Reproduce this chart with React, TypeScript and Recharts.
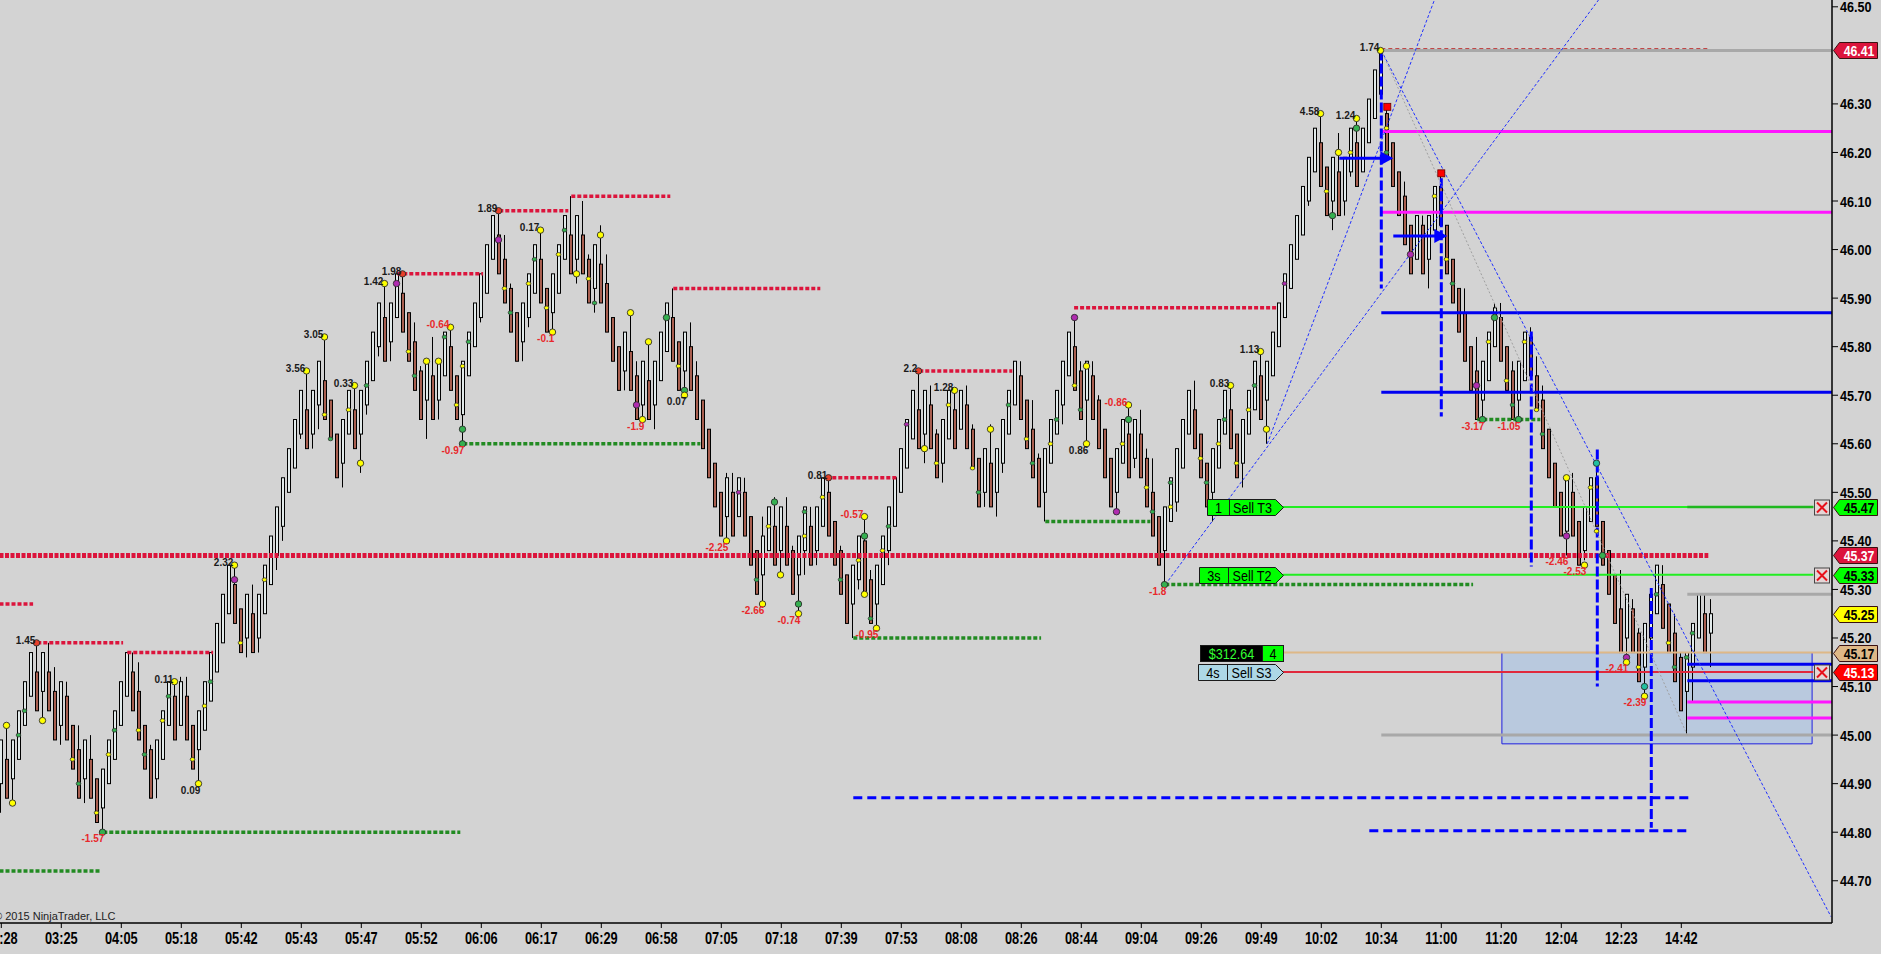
import React from "react";
import { ComposedChart, Bar, XAxis, YAxis, ReferenceLine, ReferenceArea, ReferenceDot } from "recharts";

const X_MIN = -0.217;
const X_MAX = 305.117;
const Y_MIN = 44.613;
const Y_MAX = 46.514;
const FONT = "'Liberation Sans', Arial, sans-serif";

const opens = [
  44.90, 44.95, 44.91, 44.95, 45.02, 45.08, 45.13, 45.09, 45.13, 45.09,
  45.02, 45.08, 45.02, 44.97, 44.91, 44.95, 44.91, 44.85, 44.90, 44.95,
  45.02, 45.08, 45.13, 45.09, 45.02, 44.97, 44.91, 44.95, 45.02, 45.08,
  45.02, 45.08, 45.02, 44.97, 45.01, 45.07, 45.13, 45.19, 45.25, 45.31,
  45.26, 45.20, 45.25, 45.20, 45.25, 45.31, 45.37, 45.43, 45.50, 45.55,
  45.62, 45.67, 45.62, 45.68, 45.73, 45.69, 45.62, 45.56, 45.62, 45.67,
  45.62, 45.68, 45.73, 45.80, 45.86, 45.81, 45.86, 45.91, 45.87, 45.81,
  45.75, 45.69, 45.74, 45.69, 45.74, 45.80, 45.74, 45.66, 45.74, 45.80,
  45.86, 45.91, 45.98, 46.03, 45.98, 45.92, 45.87, 45.81, 45.86, 45.91,
  45.98, 45.92, 45.87, 45.91, 45.98, 46.03, 45.98, 46.03, 45.98, 45.92,
  45.97, 45.93, 45.86, 45.80, 45.75, 45.79, 45.74, 45.68, 45.73, 45.68,
  45.73, 45.79, 45.86, 45.81, 45.75, 45.80, 45.74, 45.69, 45.63, 45.56,
  45.50, 45.45, 45.50, 45.45, 45.50, 45.45, 45.38, 45.33, 45.38, 45.43,
  45.38, 45.43, 45.38, 45.33, 45.38, 45.43, 45.38, 45.43, 45.50, 45.44,
  45.38, 45.33, 45.27, 45.32, 45.40, 45.32, 45.27, 45.31, 45.38, 45.43,
  45.50, 45.55, 45.61, 45.67, 45.62, 45.68, 45.62, 45.56, 45.61, 45.67,
  45.63, 45.68, 45.63, 45.57, 45.50, 45.56, 45.50, 45.56, 45.62, 45.68,
  45.74, 45.69, 45.63, 45.57, 45.50, 45.56, 45.62, 45.68, 45.74, 45.80,
  45.75, 45.69, 45.74, 45.69, 45.63, 45.57, 45.50, 45.56, 45.62, 45.57,
  45.62, 45.57, 45.50, 45.45, 45.38, 45.44, 45.48, 45.55, 45.62, 45.67,
  45.62, 45.56, 45.50, 45.55, 45.62, 45.67, 45.62, 45.56, 45.62, 45.67,
  45.74, 45.69, 45.74, 45.80, 45.86, 45.92, 45.98, 46.03, 46.10, 46.16,
  46.22, 46.17, 46.10, 46.16, 46.10, 46.16, 46.22, 46.16, 46.22, 46.27,
  46.32, 46.28, 46.22, 46.16, 46.11, 46.05, 45.98, 46.05, 45.98, 46.04,
  46.13, 46.05, 45.98, 45.92, 45.87, 45.80, 45.75, 45.69, 45.73, 45.80,
  45.86, 45.80, 45.75, 45.69, 45.73, 45.82, 45.74, 45.69, 45.63, 45.56,
  45.50, 45.42, 45.50, 45.44, 45.38, 45.44, 45.53, 45.44, 45.38, 45.33,
  45.26, 45.20, 45.26, 45.21, 45.14, 45.20, 45.25, 45.31, 45.27, 45.21,
  45.16, 45.09, 45.14, 45.20, 45.25, 45.21,
];

const highs = [
  44.99, 45.02, 44.99, 45.05, 45.11, 45.17, 45.19, 45.17, 45.19, 45.14,
  45.11, 45.11, 45.02, 45.02, 44.99, 45.00, 44.91, 44.93, 44.99, 45.05,
  45.11, 45.17, 45.17, 45.15, 45.02, 44.98, 44.99, 45.05, 45.11, 45.11,
  45.12, 45.12, 45.02, 45.05, 45.11, 45.17, 45.23, 45.29, 45.35, 45.35,
  45.26, 45.29, 45.31, 45.29, 45.35, 45.41, 45.47, 45.53, 45.59, 45.65,
  45.71, 45.75, 45.71, 45.77, 45.82, 45.69, 45.62, 45.65, 45.71, 45.72,
  45.71, 45.77, 45.83, 45.89, 45.93, 45.89, 45.95, 45.95, 45.87, 45.85,
  45.76, 45.77, 45.82, 45.77, 45.83, 45.84, 45.74, 45.77, 45.83, 45.89,
  45.95, 46.01, 46.07, 46.08, 46.03, 45.93, 45.87, 45.89, 45.95, 46.01,
  46.04, 45.92, 45.95, 46.01, 46.07, 46.11, 46.07, 46.10, 45.99, 46.01,
  46.05, 45.99, 45.86, 45.80, 45.83, 45.87, 45.77, 45.77, 45.81, 45.77,
  45.83, 45.89, 45.92, 45.81, 45.83, 45.85, 45.77, 45.69, 45.63, 45.56,
  45.50, 45.54, 45.54, 45.53, 45.53, 45.45, 45.38, 45.45, 45.47, 45.49,
  45.47, 45.49, 45.39, 45.41, 45.47, 45.47, 45.47, 45.53, 45.53, 45.44,
  45.39, 45.33, 45.35, 45.41, 45.45, 45.34, 45.35, 45.41, 45.47, 45.53,
  45.59, 45.65, 45.71, 45.75, 45.71, 45.72, 45.63, 45.65, 45.71, 45.71,
  45.71, 45.72, 45.64, 45.57, 45.59, 45.64, 45.59, 45.65, 45.71, 45.77,
  45.77, 45.69, 45.69, 45.58, 45.59, 45.65, 45.71, 45.77, 45.83, 45.86,
  45.77, 45.77, 45.77, 45.70, 45.63, 45.57, 45.59, 45.65, 45.68, 45.65,
  45.67, 45.59, 45.57, 45.45, 45.47, 45.53, 45.59, 45.65, 45.71, 45.73,
  45.62, 45.56, 45.59, 45.65, 45.71, 45.72, 45.62, 45.65, 45.71, 45.77,
  45.79, 45.77, 45.83, 45.89, 45.95, 46.01, 46.07, 46.13, 46.19, 46.25,
  46.28, 46.17, 46.19, 46.24, 46.19, 46.25, 46.27, 46.25, 46.31, 46.37,
  46.41, 46.30, 46.22, 46.16, 46.14, 46.05, 46.07, 46.07, 46.07, 46.13,
  46.16, 46.05, 45.98, 45.92, 45.92, 45.80, 45.82, 45.77, 45.83, 45.89,
  45.89, 45.80, 45.77, 45.77, 45.83, 45.84, 45.78, 45.72, 45.63, 45.56,
  45.50, 45.53, 45.54, 45.44, 45.47, 45.53, 45.56, 45.44, 45.38, 45.33,
  45.34, 45.29, 45.28, 45.22, 45.23, 45.29, 45.35, 45.35, 45.27, 45.25,
  45.17, 45.17, 45.23, 45.29, 45.29, 45.28,
];

const lows = [
  44.84, 44.87, 44.86, 44.95, 45.02, 45.08, 45.05, 45.03, 45.05, 44.99,
  44.98, 44.99, 44.93, 44.87, 44.86, 44.87, 44.82, 44.80, 44.90, 44.95,
  45.02, 45.08, 45.05, 44.99, 44.93, 44.87, 44.87, 44.95, 45.02, 44.99,
  45.02, 44.99, 44.93, 44.90, 45.01, 45.07, 45.13, 45.19, 45.25, 45.23,
  45.17, 45.16, 45.17, 45.17, 45.25, 45.31, 45.34, 45.40, 45.50, 45.55,
  45.61, 45.59, 45.59, 45.63, 45.65, 45.61, 45.53, 45.51, 45.62, 45.59,
  45.54, 45.66, 45.73, 45.78, 45.77, 45.77, 45.86, 45.83, 45.77, 45.71,
  45.65, 45.61, 45.65, 45.65, 45.74, 45.71, 45.65, 45.60, 45.74, 45.80,
  45.85, 45.91, 45.98, 45.95, 45.89, 45.83, 45.77, 45.77, 45.84, 45.91,
  45.89, 45.83, 45.83, 45.91, 45.98, 45.95, 45.93, 45.95, 45.89, 45.87,
  45.89, 45.83, 45.77, 45.71, 45.71, 45.71, 45.65, 45.65, 45.65, 45.63,
  45.73, 45.79, 45.77, 45.71, 45.70, 45.71, 45.65, 45.59, 45.53, 45.47,
  45.41, 45.40, 45.41, 45.45, 45.41, 45.35, 45.29, 45.27, 45.38, 45.35,
  45.33, 45.35, 45.29, 45.25, 45.33, 45.35, 45.35, 45.43, 45.41, 45.35,
  45.29, 45.23, 45.20, 45.30, 45.29, 45.23, 45.22, 45.31, 45.35, 45.43,
  45.50, 45.55, 45.61, 45.59, 45.56, 45.59, 45.53, 45.52, 45.61, 45.59,
  45.63, 45.59, 45.55, 45.47, 45.47, 45.47, 45.45, 45.54, 45.62, 45.68,
  45.65, 45.59, 45.53, 45.47, 45.44, 45.56, 45.62, 45.64, 45.74, 45.71,
  45.65, 45.60, 45.65, 45.59, 45.53, 45.47, 45.46, 45.56, 45.53, 45.55,
  45.53, 45.47, 45.41, 45.35, 45.31, 45.44, 45.46, 45.55, 45.62, 45.59,
  45.53, 45.47, 45.44, 45.55, 45.62, 45.59, 45.53, 45.51, 45.62, 45.67,
  45.65, 45.60, 45.74, 45.80, 45.86, 45.92, 45.98, 46.03, 46.09, 46.16,
  46.13, 46.07, 46.04, 46.07, 46.07, 46.15, 46.13, 46.16, 46.22, 46.27,
  46.31, 46.19, 46.13, 46.07, 46.01, 45.95, 45.98, 45.95, 45.92, 46.04,
  46.05, 45.95, 45.89, 45.83, 45.77, 45.71, 45.65, 45.65, 45.73, 45.80,
  45.77, 45.71, 45.65, 45.65, 45.73, 45.74, 45.67, 45.59, 45.53, 45.47,
  45.41, 45.37, 45.41, 45.35, 45.36, 45.44, 45.43, 45.35, 45.29, 45.23,
  45.17, 45.15, 45.17, 45.11, 45.08, 45.18, 45.25, 45.22, 45.17, 45.11,
  45.05, 45.00, 45.07, 45.20, 45.17, 45.14,
];

const closes = [
  44.99, 44.87, 44.99, 45.05, 45.11, 45.17, 45.05, 45.17, 45.05, 44.99,
  45.11, 44.99, 44.93, 44.87, 44.99, 44.87, 44.82, 44.93, 44.99, 45.05,
  45.11, 45.17, 45.05, 44.99, 44.93, 44.87, 44.99, 45.05, 45.11, 44.99,
  45.11, 44.99, 44.93, 45.05, 45.11, 45.17, 45.23, 45.29, 45.35, 45.23,
  45.17, 45.29, 45.17, 45.29, 45.35, 45.41, 45.47, 45.53, 45.59, 45.65,
  45.71, 45.59, 45.71, 45.77, 45.65, 45.61, 45.53, 45.65, 45.71, 45.59,
  45.71, 45.77, 45.83, 45.89, 45.77, 45.89, 45.95, 45.83, 45.77, 45.71,
  45.65, 45.77, 45.65, 45.77, 45.83, 45.71, 45.65, 45.77, 45.83, 45.89,
  45.95, 46.01, 46.07, 45.95, 45.89, 45.83, 45.77, 45.89, 45.95, 46.01,
  45.89, 45.83, 45.95, 46.01, 46.07, 45.95, 46.07, 45.95, 45.89, 46.01,
  45.89, 45.83, 45.77, 45.71, 45.83, 45.71, 45.65, 45.77, 45.65, 45.77,
  45.83, 45.89, 45.77, 45.71, 45.83, 45.71, 45.65, 45.59, 45.53, 45.47,
  45.41, 45.53, 45.41, 45.53, 45.41, 45.35, 45.29, 45.41, 45.47, 45.35,
  45.47, 45.35, 45.29, 45.41, 45.47, 45.35, 45.47, 45.53, 45.41, 45.35,
  45.29, 45.23, 45.35, 45.41, 45.29, 45.23, 45.35, 45.41, 45.47, 45.53,
  45.59, 45.65, 45.71, 45.59, 45.71, 45.59, 45.53, 45.65, 45.71, 45.59,
  45.71, 45.59, 45.55, 45.47, 45.59, 45.47, 45.59, 45.65, 45.71, 45.77,
  45.65, 45.59, 45.53, 45.47, 45.59, 45.65, 45.71, 45.77, 45.83, 45.71,
  45.65, 45.77, 45.65, 45.59, 45.53, 45.47, 45.59, 45.65, 45.53, 45.65,
  45.53, 45.47, 45.41, 45.35, 45.47, 45.53, 45.59, 45.65, 45.71, 45.59,
  45.53, 45.47, 45.59, 45.65, 45.71, 45.59, 45.53, 45.65, 45.71, 45.77,
  45.65, 45.77, 45.83, 45.89, 45.95, 46.01, 46.07, 46.13, 46.19, 46.25,
  46.13, 46.07, 46.19, 46.07, 46.19, 46.25, 46.13, 46.25, 46.31, 46.37,
  46.41, 46.19, 46.13, 46.07, 46.01, 45.95, 46.07, 45.95, 46.07, 46.13,
  46.05, 45.95, 45.89, 45.83, 45.77, 45.71, 45.65, 45.77, 45.83, 45.88,
  45.77, 45.71, 45.65, 45.77, 45.83, 45.74, 45.67, 45.59, 45.53, 45.47,
  45.41, 45.53, 45.41, 45.35, 45.47, 45.53, 45.43, 45.35, 45.29, 45.23,
  45.17, 45.29, 45.17, 45.11, 45.23, 45.29, 45.35, 45.22, 45.17, 45.11,
  45.05, 45.17, 45.23, 45.29, 45.17, 45.25,
];

const tickBars = [0, 10, 20, 30, 40, 50, 60, 70, 80, 90, 100, 110, 120, 130, 140, 150, 160, 170, 180, 190, 200, 210, 220, 230, 240, 250, 260, 270, 280];
const timeLabels = ["02:28", "03:25", "04:05", "05:18", "05:42", "05:43", "05:47", "05:52", "06:06", "06:17", "06:29", "06:58", "07:05", "07:18", "07:39", "07:53", "08:08", "08:26", "08:44", "09:04", "09:26", "09:49", "10:02", "10:34", "11:00", "11:20", "12:04", "12:23", "14:42"];
const priceTicks = [44.7, 44.8, 44.9, 45.0, 45.1, 45.2, 45.3, 45.4, 45.5, 45.6, 45.7, 45.8, 45.9, 46.0, 46.1, 46.2, 46.3, 46.5];

// [fromBar, toBar, price]
const resistanceLevels: [number, number, number][] = [
  [-0.3, 5.3, 45.27], [6, 20.3, 45.19], [21, 35.3, 45.17], [66, 80.3, 45.95], [83, 94.5, 46.08],
  [95, 111.5, 46.11], [112, 136.5, 45.92], [137.5, 149.5, 45.53], [153, 168.5, 45.75], [178.8, 212.6, 45.88],
];
const supportLevels: [number, number, number][] = [
  [-0.3, 16.5, 44.72], [17, 76.5, 44.80], [77, 116.5, 45.60], [142, 173.3, 45.20],
  [174, 191.5, 45.44], [194, 245.3, 45.31], [246, 256.5, 45.65],
];
const pivotLevels: [number, number, number][] = [[-0.3, 284.5, 45.37]];
const blueLevels: [number, number, number][] = [[230, 306, 45.87], [230, 306, 45.706], [281, 306, 45.146], [281, 306, 45.112]];
const magentaLevels: [number, number, number][] = [[230, 306, 46.243], [230, 306, 46.077], [281, 306, 45.068], [281, 306, 45.035]];
const grayLevels: [number, number, number][] = [[230, 306, 46.41], [281, 306, 45.29], [230, 306, 45.0]];
const targetLevels: [number, number, number][] = [[213.6, 302, 45.47], [213.6, 302, 45.33]];
const pnlLevels: [number, number, number][] = [[213.6, 306, 45.17]];
const stopLevels: [number, number, number][] = [[213.6, 302, 45.13]];
// [bar, fromPrice, toPrice]
const dashVerticals: [number, number, number][] = [[230, 46.41, 45.92], [240, 46.147, 45.656], [255, 45.831, 45.347], [266, 45.588, 45.10], [275, 45.303, 44.809]];
const dashHorizontals: [number, number, number][] = [[142, 281.3, 44.871], [228, 281.3, 44.803]];
const arrows: [number, number, number][] = [[223, 232, 46.188], [232, 241, 46.028]];
// [bar1, price1, bar2, price2]
const trendLines: [number, number, number, number][] = [[194, 45.31, 266.2, 46.514], [211, 45.60, 238.85, 46.514], [230, 46.41, 304.95, 44.626]];
const grayTrend: [number, number, number, number][] = [[230, 46.41, 281, 45.0]];
const redSquares: [number, number][] = [[231, 46.294], [240, 46.157]];
const zone = { x1: 250.1, x2: 301.8, y1: 44.982, y2: 45.17 };

// [bar, price, colour]
const swingDots: [number, number, string][] = [
  [1, 45.02, "y"], [2, 44.86, "y"], [6, 45.19, "r"], [7, 45.03, "y"], [17, 44.80, "g"], [29, 45.11, "y"], [33, 44.90, "y"],
  [39, 45.35, "y"], [39, 45.32, "p"], [51, 45.75, "y"], [54, 45.82, "y"], [59, 45.72, "y"], [60, 45.56, "y"], [64, 45.93, "y"],
  [66, 45.93, "p"], [67, 45.95, "r"], [71, 45.77, "y"], [73, 45.77, "y"], [75, 45.84, "y"], [77, 45.63, "g"], [77, 45.60, "g"],
  [83, 46.08, "r"], [83, 46.02, "p"], [90, 46.04, "y"], [92, 45.83, "y"], [96, 45.95, "y"], [100, 46.03, "y"], [105, 45.87, "y"],
  [106, 45.68, "p"], [107, 45.65, "y"], [108, 45.81, "y"], [111, 45.86, "g"], [114, 45.71, "g"], [114, 45.70, "y"], [121, 45.40, "y"],
  [127, 45.27, "y"], [129, 45.48, "g"], [130, 45.33, "y"], [133, 45.27, "g"], [133, 45.25, "y"], [138, 45.53, "r"], [144, 45.45, "y"],
  [144, 45.41, "g"], [144, 45.29, "y"], [146, 45.22, "y"], [153, 45.75, "r"], [154, 45.59, "y"], [159, 45.71, "y"], [165, 45.63, "y"],
  [179, 45.86, "p"], [181, 45.76, "y"], [181, 45.60, "y"], [186, 45.46, "p"], [188, 45.68, "y"], [188, 45.65, "g"], [194, 45.31, "g"],
  [205, 45.72, "y"], [210, 45.79, "y"], [211, 45.63, "y"], [220, 46.28, "y"], [222, 46.07, "g"], [223, 46.20, "y"], [226, 46.27, "y"],
  [226, 46.25, "g"], [230, 46.41, "y"], [235, 45.99, "p"], [246, 45.72, "p"], [247, 45.65, "g"], [249, 45.86, "g"], [253, 45.65, "g"],
  [261, 45.53, "y"], [261, 45.41, "p"], [264, 45.35, "y"], [266, 45.56, "t"], [267, 45.37, "g"], [271, 45.16, "p"], [271, 45.15, "y"],
  [274, 45.10, "t"], [274, 45.08, "y"],
];
// [bar, price, colour]
const minorDots: [number, number, string][] = [
  [3, 45.00, "g"], [4, 45.05, "g"], [12, 44.95, "y"], [13, 44.90, "g"], [16, 44.84, "y"], [18, 44.96, "y"], [19, 45.01, "g"],
  [23, 45.01, "y"], [24, 44.96, "g"], [27, 45.03, "y"], [28, 45.08, "g"], [32, 44.95, "y"], [34, 45.06, "y"], [35, 45.11, "g"],
  [40, 45.19, "y"], [44, 45.32, "y"], [54, 45.66, "y"], [55, 45.61, "g"], [58, 45.67, "y"], [61, 45.72, "g"], [68, 45.79, "y"],
  [69, 45.74, "g"], [74, 45.82, "g"], [76, 45.68, "y"], [77, 45.76, "y"], [78, 45.81, "g"], [84, 45.92, "y"], [85, 45.87, "g"],
  [88, 45.93, "y"], [89, 45.98, "g"], [91, 45.88, "y"], [93, 45.99, "y"], [94, 46.04, "g"], [98, 45.94, "y"], [99, 45.89, "g"],
  [111, 45.86, "g"], [113, 45.76, "y"], [123, 45.50, "p"], [126, 45.32, "g"], [128, 45.43, "y"], [134, 45.46, "g"], [134, 45.41, "y"],
  [137, 45.49, "y"], [140, 45.32, "g"], [143, 45.36, "y"], [145, 45.24, "g"], [147, 45.38, "y"], [148, 45.43, "g"], [151, 45.64, "p"],
  [156, 45.56, "y"], [158, 45.68, "y"], [162, 45.55, "y"], [163, 45.50, "g"], [168, 45.68, "g"], [171, 45.61, "y"], [172, 45.56, "g"],
  [175, 45.60, "y"], [176, 45.65, "g"], [179, 45.72, "y"], [180, 45.67, "g"], [187, 45.60, "y"], [191, 45.51, "y"], [192, 45.46, "g"],
  [195, 45.47, "y"], [195, 45.52, "g"], [200, 45.57, "y"], [201, 45.52, "g"], [203, 45.60, "y"], [204, 45.65, "g"], [206, 45.56, "y"],
  [208, 45.67, "y"], [209, 45.72, "g"], [214, 45.93, "p"], [221, 46.12, "y"], [225, 46.20, "y"], [231, 46.25, "y"], [231, 46.20, "g"],
  [239, 46.11, "y"], [241, 45.98, "y"], [242, 45.93, "g"], [248, 45.81, "y"], [251, 45.73, "y"], [252, 45.68, "g"], [254, 45.81, "y"],
  [256, 45.67, "y"], [257, 45.62, "g"], [265, 45.51, "y"], [266, 45.42, "y"], [273, 45.14, "y"], [276, 45.29, "g"], [278, 45.19, "y"],
  [279, 45.14, "g"], [281, 45.16, "g"], [282, 45.21, "g"],
];
// [text, bar, price, side]
const swingLabels: [string, number, number, string][] = [
  ["1.45", 6, 45.19, "a"], ["-1.57", 17, 44.80, "b"], ["0.11", 29, 45.11, "a"], ["0.09", 33, 44.90, "b"], ["2.32", 39, 45.35, "a"],
  ["3.56", 51, 45.75, "a"], ["3.05", 54, 45.82, "a"], ["0.33", 59, 45.72, "a"], ["1.42", 64, 45.93, "a"], ["1.98", 67, 45.95, "a"],
  ["-0.64", 75, 45.84, "a"], ["-0.97", 77, 45.60, "b"], ["1.89", 83, 46.08, "a"], ["0.17", 90, 46.04, "a"], ["-0.1", 92, 45.83, "b"],
  ["-1.9", 107, 45.65, "b"], ["0.07", 114, 45.70, "b"], ["-2.25", 121, 45.40, "b"], ["-2.66", 127, 45.27, "b"], ["-0.74", 133, 45.25, "b"],
  ["0.81", 138, 45.53, "a"], ["-0.57", 144, 45.45, "a"], ["-0.95", 146, 45.22, "b"], ["2.2", 153, 45.75, "a"], ["1.28", 159, 45.71, "a"],
  ["0.86", 181, 45.60, "b"], ["-0.86", 188, 45.68, "a"], ["-1.8", 194, 45.31, "b"], ["0.83", 205, 45.72, "a"], ["1.13", 210, 45.79, "a"],
  ["4.58", 220, 46.28, "a"], ["1.24", 226, 46.27, "a"], ["1.74", 230, 46.41, "a"], ["-3.17", 247, 45.65, "b"], ["-1.05", 253, 45.65, "b"],
  ["-2.46", 261, 45.37, "b"], ["-2.53", 264, 45.35, "b"], ["-2.41", 271, 45.15, "b"], ["-2.39", 274, 45.08, "b"],
];
// [price, fill, text colour, cancel box]
const priceTags: [number, string, string, boolean][] = [
  [46.41, "#dc143c", "#ffffff", false], [45.47, "#00ff00", "#000000", true], [45.37, "#dc143c", "#ffffff", false],
  [45.33, "#00ff00", "#000000", true], [45.25, "#ffff00", "#000000", false], [45.17, "#deb887", "#000000", false],
  [45.13, "#ff0000", "#ffffff", true],
];
// [price, qty, name, fill, leftWidth, dividerOffset]
const orderTags: [number, string, string, string, number, number][] = [
  [45.47, "1", "Sell T3", "#00ff00", 76, 54], [45.33, "3s", "Sell T2", "#00ff00", 84, 55], [45.13, "4s", "Sell S3", "#add8e6", 85, 56],
];
const pnlTag = { price: 45.17, text: "$312.64", qty: "4" };
const orderBar = 213.6;

const dotColours: Record<string, string> = { y: "#ffff00", g: "#35b050", p: "#b02cb0", r: "#e8402a", t: "#20c0a0" };

const candles = opens.map((o, i) => ({ i, o, h: highs[i], l: lows[i], c: closes[i] }));

function Candle(props: any) {
  const { x, y, width, height, payload } = props;
  if (payload == null || x == null || y == null) return null;
  const top = Math.min(y, y + height);
  const hgt = Math.abs(height);
  const { o, h, l, c } = payload;
  const span = h - l;
  const k = span > 0 ? hgt / span : 0;
  const cx0 = Math.round(x + width / 2);
  const bTop = top + (h - Math.max(o, c)) * k;
  const bBot = top + (h - Math.min(o, c)) * k;
  const up = c >= o;
  return (
    <g>
      <line x1={cx0 - 0.5} x2={cx0 - 0.5} y1={top} y2={top + hgt} stroke="#000" strokeWidth={1} />
      <rect x={cx0 - 1.5} y={bTop} width={3} height={Math.max(1, bBot - bTop)} fill={up ? "#e2eaea" : "#a85e4f"} stroke="#000" strokeWidth={1} />
    </g>
  );
}

const XTick = (p: any) => {
  const idx = tickBars.indexOf(p.payload.value);
  return (
    <text transform={`translate(${p.x},${p.y + 13.5}) scale(0.8,1)`} textAnchor="middle" fontFamily={FONT} fontWeight="bold" fontSize={16} fill="#000">
      {timeLabels[idx]}
    </text>
  );
};

const YTick = (p: any) => (
  <text transform={`translate(${p.x},${p.y + 5.5}) scale(0.84,1)`} textAnchor="start" fontFamily={FONT} fontWeight="bold" fontSize={15} fill="#000">
    {Number(p.payload.value).toFixed(2)}
  </text>
);

const hSeg = (arr: [number, number, number][], key: string, stroke: string, width: number, dash?: string) =>
  arr.map(([a, b, p], n) => (
    <ReferenceLine key={`${key}${n}`} segment={[{ x: a, y: p }, { x: b, y: p }]} stroke={stroke} strokeWidth={width} strokeDasharray={dash} ifOverflow="hidden" />
  ));

export default function App() {
  return (
    <div style={{ position: "absolute", left: 0, top: 0, width: 1881, height: 954, background: "#d3d3d3", overflow: "hidden" }}>
      <ComposedChart width={1881} height={954} data={candles} margin={{ top: 0, right: 0, bottom: 0, left: 0 }}>
        <XAxis
          dataKey="i"
          type="number"
          domain={[X_MIN, X_MAX]}
          allowDataOverflow
          ticks={tickBars}
          interval={0}
          height={31}
          tickSize={5}
          tickMargin={2}
          axisLine={{ stroke: "#000", strokeWidth: 1.5 }}
          tickLine={{ stroke: "#000" }}
          tick={(p: any) => <XTick {...p} />}
        />
        <YAxis
          orientation="right"
          type="number"
          domain={[Y_MIN, Y_MAX]}
          allowDataOverflow
          ticks={priceTicks}
          interval={0}
          width={49}
          tickSize={6}
          tickMargin={2}
          axisLine={{ stroke: "#000", strokeWidth: 1.5 }}
          tickLine={{ stroke: "#000" }}
          tick={(p: any) => <YTick {...p} />}
        />
        <ReferenceArea x1={zone.x1} x2={zone.x2} y1={zone.y1} y2={zone.y2} fill="#b9c9de" fillOpacity={1} stroke="#2020e0" strokeWidth={1} ifOverflow="hidden" />
        <Bar dataKey={(d: any) => [d.l, d.h]} barSize={4} shape={(p: any) => <Candle {...p} />} isAnimationActive={false} />

        {hSeg(grayLevels, "gr", "#a8a8a8", 3)}
        {hSeg(magentaLevels, "mg", "#ff14ff", 3)}
        {hSeg(blueLevels, "bl", "#0000f0", 3)}
        {hSeg([[230, 284.5, 46.414]], "rd", "#c04040", 1, "4 3")}
        {hSeg(resistanceLevels, "rs", "#dc143c", 3.5, "4 2")}
        {hSeg(supportLevels, "sp", "#228b22", 3.5, "4 2")}
        {hSeg(pivotLevels, "pv", "#dc143c", 5, "4 1.5")}
        {hSeg(targetLevels, "tg", "#22ee22", 2)}
        {hSeg(pnlLevels, "pn", "#deb887", 2)}
        {hSeg(stopLevels, "st", "#e0283c", 2)}
        {hSeg([[281, 302, 45.47]], "tg2", "#1fb81f", 2.5)}
        {hSeg(dashHorizontals, "dh", "#0000ff", 3, "9 5")}

        {dashVerticals.map(([b, p1, p2], n) => (
          <ReferenceLine key={`dv${n}`} segment={[{ x: b, y: p1 }, { x: b, y: p2 }]} stroke="#0000ff" strokeWidth={3} strokeDasharray="10 3" ifOverflow="hidden" />
        ))}
        {trendLines.map(([b1, p1, b2, p2], n) => (
          <ReferenceLine key={`tl${n}`} segment={[{ x: b1, y: p1 }, { x: b2, y: p2 }]} stroke="#2030ff" strokeWidth={1} strokeDasharray="3 2" ifOverflow="hidden" />
        ))}
        {grayTrend.map(([b1, p1, b2, p2], n) => (
          <ReferenceLine key={`gt${n}`} segment={[{ x: b1, y: p1 }, { x: b2, y: p2 }]} stroke="#a0a0a0" strokeWidth={1} strokeDasharray="2 2" ifOverflow="hidden" />
        ))}
        {arrows.map(([b1, b2, p], n) => (
          <ReferenceLine key={`ar${n}`} segment={[{ x: b1, y: p }, { x: b2 - 1.5, y: p }]} stroke="#0000ff" strokeWidth={3} ifOverflow="hidden" />
        ))}
        {arrows.map(([, b2, p], n) => (
          <ReferenceDot
            key={`ah${n}`}
            x={b2}
            y={p}
            r={1}
            shape={(s: any) => <polygon points={`${s.cx},${s.cy} ${s.cx - 13},${s.cy - 7} ${s.cx - 13},${s.cy + 7}`} fill="#0000ff" />}
          />
        ))}

        {minorDots.map(([b, p, col], n) => (
          <ReferenceDot
            key={`md${n}`}
            x={b}
            y={p}
            r={2}
            shape={(s: any) => <ellipse cx={Math.round(s.cx) - 0.5} cy={s.cy} rx={2.3} ry={1.9} fill={dotColours[col]} stroke="#333" strokeWidth={0.8} />}
          />
        ))}
        {swingDots.map(([b, p, col], n) => (
          <ReferenceDot
            key={`sd${n}`}
            x={b}
            y={p}
            r={3}
            shape={(s: any) => <circle cx={Math.round(s.cx) - 0.5} cy={s.cy} r={3.2} fill={dotColours[col]} stroke="#2a2a2a" strokeWidth={0.9} />}
          />
        ))}
        {swingLabels.map(([t, b, p, side], n) => (
          <ReferenceDot
            key={`sl${n}`}
            x={b}
            y={p}
            r={1}
            shape={(s: any) => (
              <text
                x={side === "a" ? s.cx - 2 : s.cx + 1}
                y={side === "a" ? s.cy + 1 : s.cy + 10}
                textAnchor="end"
                fontFamily={FONT}
                fontWeight="bold"
                fontSize={10}
                fill={t.startsWith("-") ? "#e8282b" : "#1a1a1a"}
              >
                {t}
              </text>
            )}
          />
        ))}
        {redSquares.map(([b, p], n) => (
          <ReferenceDot key={`rq${n}`} x={b} y={p} r={3} shape={(s: any) => <rect x={s.cx - 3.5} y={s.cy - 3.5} width={7} height={7} fill="#ff0000" stroke="#600" strokeWidth={0.8} />} />
        ))}

        {orderTags.map(([p, q, name, fill, L, D], n) => (
          <ReferenceDot
            key={`ot${n}`}
            x={orderBar}
            y={p}
            r={1}
            ifOverflow="visible"
            shape={(s: any) => {
              const cx = Math.round(s.cx) + 0.5;
              const cy = Math.round(s.cy) + 0.5;
              return (
                <g>
                  <path d={`M${cx - L},${cy - 8} H${cx - 8} L${cx},${cy} L${cx - 8},${cy + 8} H${cx - L} Z`} fill={fill} stroke="#1a1a1a" strokeWidth={1} />
                  <line x1={cx - D} x2={cx - D} y1={cy - 8} y2={cy + 8} stroke="#1a1a1a" />
                  <text transform={`translate(${cx - (L + D) / 2},${cy + 5}) scale(0.9,1)`} textAnchor="middle" fontFamily={FONT} fontSize={14} fill="#000">{q}</text>
                  <text transform={`translate(${cx - (D + 8) / 2},${cy + 5}) scale(0.9,1)`} textAnchor="middle" fontFamily={FONT} fontSize={14} fill="#000">{name}</text>
                </g>
              );
            }}
          />
        ))}
        <ReferenceDot
          x={orderBar}
          y={pnlTag.price}
          r={1}
          ifOverflow="visible"
          shape={(s: any) => {
            const cx = Math.round(s.cx) + 0.5;
            const cy = Math.round(s.cy) + 0.5;
            return (
              <g>
                <rect x={cx - 83} y={cy - 8} width={62} height={16} fill="#000" stroke="#1a1a1a" />
                <rect x={cx - 21} y={cy - 8} width={21} height={16} fill="#00ff00" stroke="#1a1a1a" />
                <text transform={`translate(${cx - 52},${cy + 5}) scale(0.9,1)`} textAnchor="middle" fontFamily={FONT} fontSize={14} fill="#33ff33">{pnlTag.text}</text>
                <text transform={`translate(${cx - 10.5},${cy + 5}) scale(0.9,1)`} textAnchor="middle" fontFamily={FONT} fontSize={14} fill="#000">{pnlTag.qty}</text>
              </g>
            );
          }}
        />

        {priceTags.map(([p, fill, tc, cancel], n) => (
          <ReferenceDot
            key={`pt${n}`}
            x={X_MAX}
            y={p}
            r={1}
            ifOverflow="visible"
            shape={(s: any) => {
              const cx = Math.round(s.cx);
              const cy = Math.round(s.cy) + 0.5;
              return (
                <g>
                  {cancel && (
                    <g>
                      <rect x={cx - 17.5} y={cy - 7.5} width={15} height={15} fill="#e4d6d6" stroke="#444" />
                      <line x1={cx - 15} y1={cy - 5} x2={cx - 5} y2={cy + 5} stroke="#e8101a" strokeWidth={2} />
                      <line x1={cx - 5} y1={cy - 5} x2={cx - 15} y2={cy + 5} stroke="#e8101a" strokeWidth={2} />
                    </g>
                  )}
                  <path d={`M${cx + 1.5},${cy} L${cx + 7.5},${cy - 8} H${cx + 45.5} V${cy + 8} H${cx + 7.5} Z`} fill={fill} stroke="#3a1010" strokeWidth={1} />
                  <text transform={`translate(${cx + 27},${cy + 5.5}) scale(0.82,1)`} textAnchor="middle" fontFamily={FONT} fontWeight="bold" fontSize={15} fill={tc}>
                    {p.toFixed(2)}
                  </text>
                </g>
              );
            }}
          />
        ))}
      </ComposedChart>
      <div style={{ position: "absolute", left: -6, top: 911, fontFamily: FONT, fontSize: 11, lineHeight: "11px", color: "#222", whiteSpace: "nowrap" }}>
        © 2015 NinjaTrader, LLC
      </div>
    </div>
  );
}
